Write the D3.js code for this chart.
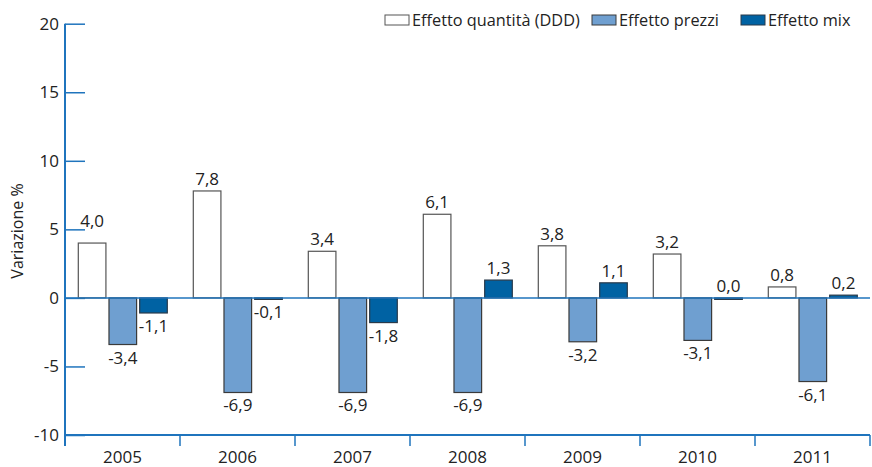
<!DOCTYPE html>
<html>
<head>
<meta charset="utf-8">
<script src="https://cdn.jsdelivr.net/npm/d3@7"></script>
<style>
  body { margin: 0; background: #fff; }
  text { font-family: "Open Sans", sans-serif; fill: #222; }
</style>
</head>
<body>
<div id="chart"></div>
<script>
// データ
const years = ["2005", "2006", "2007", "2008", "2009", "2010", "2011"];
const seriesNames = ["Effetto quantità (DDD)", "Effetto prezzi", "Effetto mix"];
const quantita = [4.0, 7.8, 3.4, 6.1, 3.8, 3.2, 0.8];
const prezzi = [-3.4, -6.9, -6.9, -6.9, -3.2, -3.1, -6.1];
const mix = [-1.1, -0.1, -1.8, 1.3, 1.1, 0.0, 0.2];
const yTicks = [-10, -5, 0, 5, 10, 15, 20];

const colors = ["#ffffff", "#6f9fd0", "#0062a3"];
const strokes = ["#555", "#3a3a3a", "#2a3a4a"];
const axisColor = "#1f74bd";

const width = 872;
const height = 467;
const svg = d3.select("#chart").append("svg")
    .attr("width", width)
    .attr("height", height);

// スケール
const y = d3.scaleLinear().domain([-10, 20]).range([435, 23.7]);
const x0 = d3.scaleBand().domain(years).range([65, 870]);
const x1 = d3.scaleBand().domain(seriesNames).range([13.3, 102.3]).paddingInner(0.1);

const fmt = v => d3.format(".1f")(v).replace(".", ",").replace("−", "-");

// 縦軸
const yAxis = svg.append("g")
    .attr("transform", "translate(65,0)")
    .call(d3.axisLeft(y).tickValues(yTicks).tickSize(-20).tickSizeOuter(0).tickPadding(6));
yAxis.select(".domain").remove();
yAxis.selectAll("line").attr("stroke", axisColor).attr("stroke-width", 1.5);
yAxis.selectAll("text")
    .style("font-family", "'Open Sans', sans-serif")
    .attr("font-size", "17px")
    .attr("fill", "#222")
    .text(d => d3.format("d")(d).replace("−", "-"));

svg.append("line")
    .attr("x1", 65).attr("x2", 65)
    .attr("y1", y(20)).attr("y2", 446)
    .attr("stroke", axisColor).attr("stroke-width", 2);

// 棒グラフ
const rows = years.map((yr, i) => ({ year: yr, values: [quantita[i], prezzi[i], mix[i]] }));

const groups = svg.selectAll("g.year")
    .data(rows)
    .enter().append("g")
    .attr("class", "year")
    .attr("transform", d => `translate(${x0(d.year)},0)`);

groups.selectAll("rect")
    .data(d => d.values.map((v, k) => ({ k, v })))
    .enter().append("rect")
    .attr("x", d => x1(seriesNames[d.k]))
    .attr("width", x1.bandwidth())
    .attr("y", d => y(Math.max(0, d.v)))
    .attr("height", d => Math.max(1.5, Math.abs(y(d.v) - y(0))))
    .attr("fill", d => colors[d.k])
    .attr("stroke", d => strokes[d.k])
    .attr("stroke-width", 1.2);

// ゼロ線
svg.append("line")
    .attr("x1", 65).attr("x2", 870)
    .attr("y1", y(0)).attr("y2", y(0))
    .attr("stroke", axisColor).attr("stroke-width", 1.5);

// 値ラベル
groups.selectAll("text.val")
    .data(d => d.values.map((v, k) => ({ k, v, year: d.year })))
    .enter().append("text")
    .attr("class", "val")
    .attr("id", d => `val-${d.year}-${d.k}`)
    .attr("x", d => x1(seriesNames[d.k]) + x1.bandwidth() / 2)
    .attr("y", d => d.v >= 0 ? y(d.v) - 6 : y(d.v) + 19)
    .attr("text-anchor", "middle")
    .attr("font-size", "17px")
    .text(d => fmt(d.v));

// 目盛り線と重なるので無理やり調整
svg.select("#val-2005-0").attr("y", y(4.0) - 16);

// 横軸
svg.append("line")
    .attr("x1", 65).attr("x2", 870)
    .attr("y1", 435).attr("y2", 435)
    .attr("stroke", axisColor).attr("stroke-width", 2);

svg.selectAll("line.xtick")
    .data(years)
    .enter().append("line")
    .attr("class", "xtick")
    .attr("x1", d => x0(d) + x0.bandwidth()).attr("x2", d => x0(d) + x0.bandwidth())
    .attr("y1", 435).attr("y2", 446)
    .attr("stroke", axisColor).attr("stroke-width", 1.5);

svg.selectAll("text.xlab")
    .data(years)
    .enter().append("text")
    .attr("class", "xlab")
    .attr("x", d => x0(d) + x0.bandwidth() / 2)
    .attr("y", 463)
    .attr("text-anchor", "middle")
    .attr("font-size", "17px")
    .text(d => d);

// 縦軸タイトル
svg.append("text")
    .attr("transform", "translate(23,231) rotate(-90)")
    .attr("text-anchor", "middle")
    .attr("font-size", "16px")
    .text("Variazione %");

// 凡例
const legendX = [385, 592, 741];
const legend = svg.selectAll("g.legend")
    .data(seriesNames)
    .enter().append("g")
    .attr("class", "legend")
    .attr("transform", (d, i) => `translate(${legendX[i]},15)`);

legend.append("rect")
    .attr("width", 24).attr("height", 10)
    .attr("fill", (d, i) => colors[i])
    .attr("stroke", (d, i) => strokes[i])
    .attr("stroke-width", 1);

legend.append("text")
    .attr("x", 27).attr("y", 10.5)
    .attr("font-size", "16.3px")
    .text(d => d);
</script>
</body>
</html>
